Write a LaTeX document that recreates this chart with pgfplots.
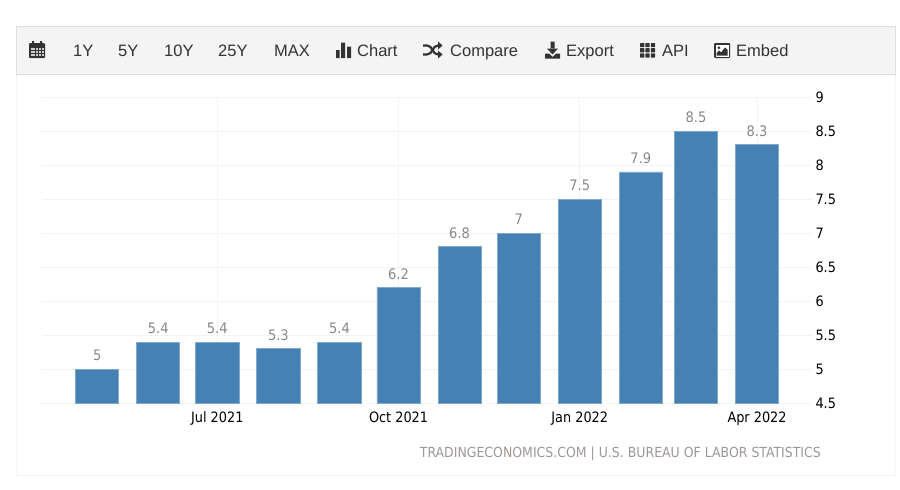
\documentclass[border=0pt]{standalone}
\usepackage{fontspec}
\setmainfont{DejaVu Sans Condensed}
\newfontfamily\tb{Liberation Sans}
\usepackage{pgfplots}
\pgfplotsset{compat=1.18}
\definecolor{barc}{HTML}{4681B3}
\definecolor{bare}{HTML}{7FA9CE}
\definecolor{gridc}{HTML}{F3F3F3}
\definecolor{tbtxt}{HTML}{333333}
\definecolor{lab}{HTML}{8C8684}
\begin{document}
\begin{tikzpicture}[x=1pt,y=-1pt]
\path[use as bounding box,fill=white] (0,0) rectangle (900,490);
% panel
\draw[draw=black!4,line width=0.8pt] (16,74) rectangle (895,475);
\fill[black!4.5,draw=black!13,line width=0.8pt] (16.5,26.5) rectangle (895,74);
\begin{axis}[at={(42pt,-403.3pt)},anchor=south west,scale only axis,width=770pt,height=306.2pt,
 xmin=-28,xmax=362.9,ymin=4.5,ymax=9,
 ybar,bar width=43.2pt,
 axis line style={draw=none},
 grid=major,grid style={gridc,line width=0.7pt},
 xtick={61,153,245,335},xticklabels={Jul 2021,Oct 2021,Jan 2022,Apr 2022},
 ytick={4.5,5,5.5,6,6.5,7,7.5,8,8.5,9},
 yticklabels={4.5,5,5.5,6,6.5,7,7.5,8,8.5,9},
 ytick pos=right,yticklabel pos=right,
 major tick length=0pt,
 tick label style={font=\fontsize{14.3}{15}\selectfont,black},
 yticklabel style={anchor=west,xshift=0pt},
 xticklabel style={yshift=-5pt},
 /pgf/number format/assume math mode=true,
 nodes near coords,
 nodes near coords style={font=\fontsize{14.5}{15}\selectfont,text=lab,yshift=4.5pt},
 clip=false]
\addplot[fill=barc,draw=bare,line width=0.8pt,bar shift=0pt] coordinates {
 (0,5) (31,5.4) (61,5.4) (92,5.3) (123,5.4) (153,6.2) (184,6.8) (214,7) (245,7.5) (276,7.9) (304,8.5) (335,8.3)};
\end{axis}
\node[anchor=east,inner sep=0pt,text=lab!85!white,font=\fontsize{13.9}{14}\selectfont] at (821,453.5) {TRADINGECONOMICS.COM | U.S. BUREAU OF LABOR STATISTICS};
% toolbar text
\begin{scope}[every node/.style={anchor=base west,inner sep=0pt,text=tbtxt,font=\tb\fontsize{16.5}{20}\selectfont}]
\node at (73,56.5) {1Y};
\node at (118,56.5) {5Y};
\node at (164,56.5) {10Y};
\node at (218,56.5) {25Y};
\node at (274,56.5) {MAX};
\node at (357,56.5) {Chart};
\node at (450,56.5) {Compare};
\node at (566,56.5) {Export};
\node at (662,56.5) {API};
\node at (736,56.5) {Embed};
\end{scope}
% calendar
\fill[tbtxt,rounded corners=1pt] (29,43) rectangle (45,58);
\fill[tbtxt] (32,41) rectangle (34,44) (40,41) rectangle (42,44);
\foreach \i in {0,1,2,3,4} \foreach \j in {0,1,2}
  \fill[black!20] (30.6+\i*2.8,47.6+\j*3.2) rectangle +(1.9,2.2);
% chart
\fill[tbtxt] (336,50) rectangle (339.5,58) (341,42.5) rectangle (345,58) (347,46.5) rectangle (351,58);
% shuffle
\draw[tbtxt,line width=2.2pt] (423,45.5) -- (427,45.5) .. controls (433,45.5) and (432,54.5) .. (438,54.5) -- (439,54.5);
\draw[tbtxt,line width=2.2pt] (423,54.5) -- (427,54.5) .. controls (433,54.5) and (432,45.5) .. (438,45.5) -- (439,45.5);
\fill[tbtxt] (438,41.5) -- (442.5,45.5) -- (438,49.5) -- cycle (438,50.5) -- (442.5,54.5) -- (438,58.5) -- cycle;
% export
\fill[tbtxt] (550.5,41.5) rectangle (554.5,49) (547,48.5) -- (558,48.5) -- (552.5,54.5) -- cycle;
\fill[tbtxt] (545,53.5) -- (549,53.5) -- (552.5,57) -- (556,53.5) -- (560,53.5) -- (560,58.5) -- (545,58.5) -- cycle;
% api
\foreach \i in {0,1,2} \foreach \j in {0,1,2}
  \fill[tbtxt,rounded corners=0.5pt] (640+\i*5.4,43+\j*5.2) rectangle +(4.3,4.2);
% embed
\fill[tbtxt,rounded corners=1pt] (714,43) rectangle (730,58);
\fill[white] (715.5,44.5) rectangle (728.5,56.5);
\fill[tbtxt] (716.5,55.5) -- (716.5,53) -- (719,50.5) -- (721,52.5) -- (725,47.5) -- (727.5,50) -- (727.5,55.5) -- cycle;
\fill[tbtxt] (718.8,47.8) circle (1.5);
\end{tikzpicture}
\end{document}
